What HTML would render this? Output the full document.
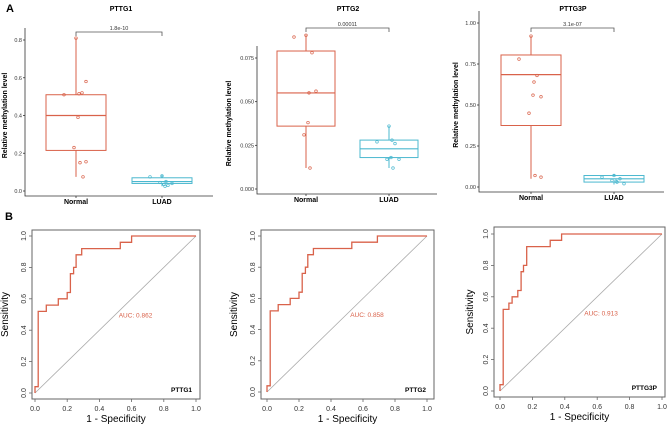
<!DOCTYPE html>
<html><head><meta charset="utf-8">
<style>
body{margin:0;background:#fff;}
svg{display:block;font-family:"Liberation Sans",sans-serif;}
</style></head>
<body>
<svg id="fig" width="669" height="426" viewBox="0 0 669 426">
<text x="6" y="12" font-size="11" font-weight="bold">A</text>
<text x="5" y="220" font-size="11" font-weight="bold">B</text>
</svg>
<script>
// ===== Box plot data =====
const boxTitles = ["PTTG1","PTTG2","PTTG3P"];
const boxPvals = ["1.8e-10","0.00011","3.1e-07"];
const boxGroups = ["Normal","LUAD"];
const yTicks1 = [0.0,0.2,0.4,0.6,0.8];
const yTickLabels1 = ["0.0","0.2","0.4","0.6","0.8"];
const yTicks2 = [0.0,0.025,0.05,0.075];
const yTickLabels2 = ["0.000","0.025","0.050","0.075"];
const yTicks3 = [0.0,0.25,0.5,0.75,1.0];
const yTickLabels3 = ["0.00","0.25","0.50","0.75","1.00"];
// stats: [whiskerLow, q1, median, q3, whiskerHigh]
const normalStats1 = [0.075,0.215,0.40,0.51,0.81];
const luadStats1 = [0.025,0.04,0.05,0.07,0.085];
const normalStats2 = [0.012,0.036,0.055,0.079,0.088];
const luadStats2 = [0.012,0.018,0.023,0.028,0.036];
const normalStats3 = [0.05,0.375,0.685,0.805,0.92];
const luadStats3 = [0.015,0.03,0.05,0.07,0.08];
const normalPts1 = [0.81,0.51,0.52,0.515,0.58,0.39,0.23,0.15,0.155,0.075];
const luadPts1 = [0.08,0.075,0.03,0.025,0.04,0.035,0.045,0.05];
const normalPts2 = [0.088,0.087,0.078,0.055,0.056,0.038,0.031,0.012];
const luadPts2 = [0.036,0.027,0.026,0.028,0.017,0.018,0.017,0.012];
const normalPts3 = [0.92,0.78,0.68,0.64,0.55,0.56,0.45,0.07,0.06];
const luadPts3 = [0.07,0.06,0.05,0.03,0.02,0.035,0.04];
const jitter = [0,-12,6,3,10,2,-2,4,10,7];

// ===== ROC data =====
const rocTitles = ["PTTG1","PTTG2","PTTG3P"];
const aucLabels = ["AUC: 0.862","AUC: 0.858","AUC: 0.913"];
const rocTicks = [0,0.2,0.4,0.6,0.8,1.0];
const rocTickLabels = ["0.0","0.2","0.4","0.6","0.8","1.0"];
const rocFpr1 = [0,0,0.02,0.02,0.07,0.07,0.145,0.145,0.2,0.2,0.22,0.22,0.24,0.24,0.255,0.255,0.29,0.29,0.53,0.53,0.6,0.6,1];
const rocTpr1 = [0,0.04,0.04,0.52,0.52,0.56,0.56,0.60,0.60,0.64,0.64,0.76,0.76,0.80,0.80,0.88,0.88,0.92,0.92,0.96,0.96,1,1];
const rocFpr2 = [0,0,0.02,0.02,0.07,0.07,0.145,0.145,0.2,0.2,0.22,0.22,0.24,0.24,0.255,0.255,0.29,0.29,0.53,0.53,0.69,0.69,1];
const rocTpr2 = [0,0.04,0.04,0.52,0.52,0.56,0.56,0.60,0.60,0.64,0.64,0.76,0.76,0.80,0.80,0.88,0.88,0.92,0.92,0.96,0.96,1,1];
const rocFpr3 = [0,0,0.02,0.02,0.055,0.055,0.075,0.075,0.11,0.11,0.13,0.13,0.145,0.145,0.165,0.165,0.31,0.31,0.38,0.38,1];
const rocTpr3 = [0,0.04,0.04,0.52,0.52,0.56,0.56,0.60,0.60,0.64,0.64,0.76,0.76,0.80,0.80,0.92,0.92,0.96,0.96,1,1];

const NS="http://www.w3.org/2000/svg";
const svg=document.getElementById('fig');
function mk(tag,attrs,parent,text){const e=document.createElementNS(NS,tag);for(const k in attrs)e.setAttribute(k,attrs[k]);if(text!==undefined)e.textContent=text;(parent||svg).appendChild(e);return e;}

const RED="#d9624a", BLUE="#4bb8cf";
const boxLayout=[
 {axX:25,y0:191,yTop:40,vTop:0.8,xEnd:213,xN:76,xL:162,bw:30,br:32,ticks:yTicks1,tl:yTickLabels1,ns:normalStats1,ls:luadStats1,np:normalPts1,lp:luadPts1,tx:121,lx:7},
 {axX:257,y0:189,yTop:58,vTop:0.075,xEnd:437,xN:306,xL:389,bw:29,br:28,ticks:yTicks2,tl:yTickLabels2,ns:normalStats2,ls:luadStats2,np:normalPts2,lp:luadPts2,tx:348,lx:231},
 {axX:479,y0:187,yTop:23,vTop:1.0,xEnd:664,xN:531,xL:614,bw:30,br:28,ticks:yTicks3,tl:yTickLabels3,ns:normalStats3,ls:luadStats3,np:normalPts3,lp:luadPts3,tx:573,lx:458}
];
boxLayout.forEach((L,i)=>{
  const g=mk('g',{});
  
  
  const y=v=>L.y0-(v/L.vTop)*(L.y0-L.yTop);
  const t=mk('text',{x:L.tx,y:11,'font-size':7,'font-weight':'bold','text-anchor':'middle'},g,boxTitles[i]);
  
  
  const axis=mk('path',{d:`M${L.axX} ${L.yTop-12}V${L.y0+5}H${L.xEnd}`,stroke:'#333','stroke-width':0.8,fill:'none'},g);
  
  
  L.ticks.forEach((v,k)=>{
    mk('line',{x1:L.axX-2,x2:L.axX,y1:y(v),y2:y(v),stroke:'#333','stroke-width':0.8},g);
    const tl=mk('text',{x:L.axX-3,y:y(v)+2,'font-size':5.5,'text-anchor':'end',fill:'#333'},g,L.tl[k]);
    
    
  });
  const yl=mk('text',{x:0,y:0,'font-size':7,'font-weight':'bold','text-anchor':'middle',transform:`translate(${L.lx},${(L.y0+L.yTop)/2}) rotate(-90)`},g,'Relative methylation level');
  
  
  [[L.xN,L.ns,L.np,RED,'Normal'],[L.xL,L.ls,L.lp,BLUE,'LUAD']].forEach(([cx,s,pts,col,name])=>{
    mk('line',{x1:cx,x2:cx,y1:L.y0+5,y2:L.y0+7,stroke:'#333','stroke-width':0.8},g);
    const xl=mk('text',{x:cx,y:L.y0+13,'font-size':7,'font-weight':'bold','text-anchor':'middle'},g,name);
    
    
    mk('line',{x1:cx,x2:cx,y1:y(s[0]),y2:y(s[4]),stroke:col,'stroke-width':1},g);
    const b=mk('rect',{x:cx-L.bw,y:y(s[3]),width:L.bw*2,height:y(s[1])-y(s[3]),fill:'#fff',stroke:col,'stroke-width':1},g);
    
    
    mk('line',{x1:cx-L.bw,x2:cx+L.bw,y1:y(s[2]),y2:y(s[2]),stroke:col,'stroke-width':1.2},g);
    pts.forEach((v,k)=>{
      const p=mk('circle',{cx:cx+jitter[k%jitter.length],cy:y(v),r:1.3,fill:'none',stroke:col,'stroke-width':0.7},g);
      
      
    });
  });
  const by=L.br;
  mk('path',{d:`M${L.xN} ${by+4}V${by}H${L.xL}V${by+4}`,stroke:'#555','stroke-width':0.8,fill:'none'},g);
  const pv=mk('text',{x:(L.xN+L.xL)/2,y:by-2,'font-size':5.5,'text-anchor':'middle',fill:'#333'},g,boxPvals[i]);
  
  
});

const rocLayout=[
 {l:32,t:230,r:200,b:399,x0:35,x1:196,y0:393,y1:236,fpr:rocFpr1,tpr:rocTpr1,sx:8},
 {l:261,t:230,r:434,b:399,x0:267,x1:427,y0:392,y1:236,fpr:rocFpr2,tpr:rocTpr2,sx:237},
 {l:494,t:227,r:665,b:397,x0:500,x1:662,y0:391,y1:234,fpr:rocFpr3,tpr:rocTpr3,sx:473}
];
rocLayout.forEach((L,i)=>{
  const g=mk('g',{});
  
  
  const X=v=>L.x0+v*(L.x1-L.x0), Y=v=>L.y0-v*(L.y0-L.y1);
  const fr=mk('rect',{x:L.l,y:L.t,width:L.r-L.l,height:L.b-L.t,fill:'none',stroke:'#666','stroke-width':1},g);
  
  
  mk('line',{x1:X(0),y1:Y(0),x2:X(1),y2:Y(1),stroke:'#aaa','stroke-width':0.8},g);
  rocTicks.forEach((v,k)=>{
    mk('line',{x1:X(v),x2:X(v),y1:L.b,y2:L.b+3,stroke:'#666','stroke-width':0.8},g);
    const xt=mk('text',{x:X(v),y:L.b+12,'font-size':7,'text-anchor':'middle',fill:'#333'},g,rocTickLabels[k]);
    
    
    mk('line',{x1:L.l-3,x2:L.l,y1:Y(v),y2:Y(v),stroke:'#666','stroke-width':0.8},g);
    const yt=mk('text',{x:0,y:0,'font-size':7,'text-anchor':'middle',fill:'#333',transform:`translate(${L.l-6},${Y(v)}) rotate(-90)`},g,rocTickLabels[k]);
    
    
  });
  let d='';
  L.fpr.forEach((f,k)=>{d+=(k?'L':'M')+X(f).toFixed(1)+' '+Y(L.tpr[k]).toFixed(1);});
  const c=mk('path',{d:d,stroke:RED,'stroke-width':1.3,fill:'none'},g);
  
  
  const a=mk('text',{x:X(0.52),y:Y(0.48),'font-size':6.5,fill:RED},g,aucLabels[i]);
  
  
  const n=mk('text',{x:L.r-8,y:L.b-7,'font-size':6.5,'font-weight':'bold','text-anchor':'end'},g,rocTitles[i]);
  
  
  const xl=mk('text',{x:(L.l+L.r)/2,y:L.b+23,'font-size':10,'text-anchor':'middle'},g,'1 -  Specificity');
  
  
  const sl=mk('text',{x:0,y:0,'font-size':10,'text-anchor':'middle',transform:`translate(${L.sx},${(L.t+L.b)/2}) rotate(-90)`},g,'Sensitivity');
  
  
});
</script>
</body></html>
